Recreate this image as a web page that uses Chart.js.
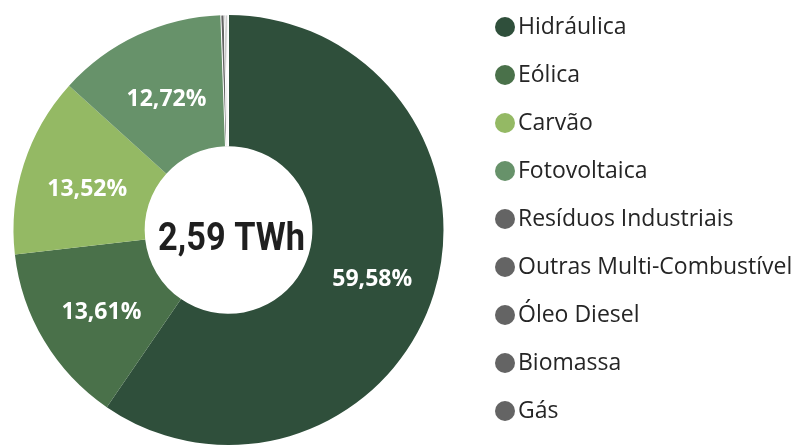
<!DOCTYPE html>
<html>
<head>
<meta charset="utf-8">
<script src="https://cdn.jsdelivr.net/npm/chart.js@4.4.1/dist/chart.umd.min.js"></script>
<style>
  html, body { margin: 0; padding: 0; background: #fff; }
  #wrap { width: 805px; height: 446px; position: relative; }
</style>
</head>
<body>
<div id="wrap"><canvas id="chart" width="805" height="446"></canvas></div>
<script>
const categories = ['Hidráulica', 'Eólica', 'Carvão', 'Fotovoltaica', 'Resíduos Industriais',
  'Outras Multi-Combustível', 'Óleo Diesel', 'Biomassa', 'Gás'];
const shares = [59.58, 13.61, 13.52, 12.72, 0.25, 0.12, 0.10, 0.06, 0.04];
const colors = ['#2f4f3b', '#4a714a', '#94b964', '#67926a', '#646464', '#646464', '#646464', '#646464', '#646464'];
const centerLabel = '2,59 TWh';

// percentages drawn inside the bigger slices
const sliceLabels = {
  id: 'sliceLabels',
  afterDatasetsDraw(chart) {
    const ctx = chart.ctx;
    const meta = chart.getDatasetMeta(0);
    ctx.save();
    ctx.fillStyle = '#fff';
    ctx.font = 'bold 23px "Open Sans"';
    ctx.textAlign = 'center';
    ctx.textBaseline = 'middle';
    meta.data.forEach((arc, i) => {
      if (shares[i] < 5) return;
      const p = arc.tooltipPosition();
      ctx.fillText(shares[i].toFixed(2).replace('.', ',') + '%', p.x + 1, p.y + 5);
    });
    // total in the hole, a bit narrower like the original
    const a = meta.data[0];
    ctx.fillStyle = '#1f1f1f';
    ctx.font = 'bold 39px Roboto';
    ctx.translate(a.x + 3, a.y + 10);
    ctx.scale(0.88, 1);
    ctx.fillText(centerLabel, 0, 0);
    ctx.restore();
  }
};

// legend on the right, one row per source
const sideLegend = {
  id: 'sideLegend',
  afterDraw(chart) {
    const ctx = chart.ctx;
    ctx.save();
    ctx.font = '23px "Open Sans"';
    ctx.textBaseline = 'middle';
    categories.forEach((name, i) => {
      const y = 27 + i * 48;
      ctx.fillStyle = colors[i];
      ctx.beginPath();
      ctx.arc(505, y, 10, 0, Math.PI * 2);
      ctx.fill();
      ctx.fillStyle = '#252525';
      ctx.fillText(name, 518, y);
    });
    ctx.restore();
  }
};

new Chart(document.getElementById('chart'), {
  type: 'doughnut',
  data: {
    labels: categories,
    datasets: [{
      data: shares,
      backgroundColor: colors,
      borderColor: '#fff',
      borderWidth: [0, 0, 0, 0, 1, 1, 1, 1, 1]
    }]
  },
  options: {
    responsive: false,
    animation: false,
    cutout: '39%',
    layout: { padding: { left: 13, top: 14, right: 361, bottom: 0 } },
    plugins: {
      legend: { display: false },
      tooltip: { enabled: false }
    }
  },
  plugins: [sliceLabels, sideLegend]
});
</script>
</body>
</html>
